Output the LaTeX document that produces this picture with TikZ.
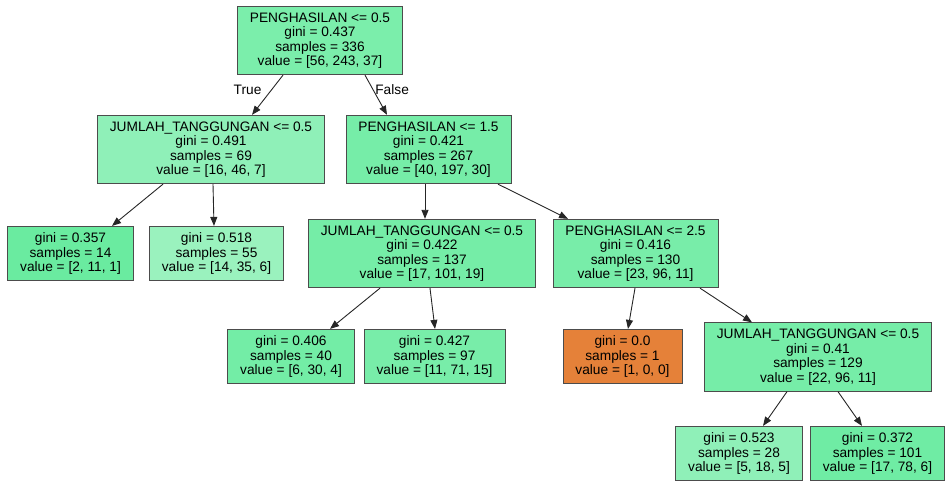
\documentclass[tikz,border=0pt]{standalone}
\usepackage{fontspec}
\setmainfont{Liberation Sans}
\usetikzlibrary{arrows.meta,positioning}
\definecolor{fillroot}{RGB}{123,238,171}
\definecolor{filljA}{RGB}{143,240,184}
\definecolor{fillpA}{RGB}{118,237,168}
\definecolor{fillpB}{RGB}{120,237,169}
\definecolor{filljB}{RGB}{117,237,167}
\definecolor{filljC}{RGB}{118,237,168}
\definecolor{fillgA}{RGB}{106,235,160}
\definecolor{fillgB}{RGB}{154,242,190}
\definecolor{fillgC}{RGB}{115,237,166}
\definecolor{fillgD}{RGB}{120,237,169}
\definecolor{fillgE}{RGB}{143,240,184}
\definecolor{fillgF}{RGB}{111,236,164}
\definecolor{fillorange}{RGB}{229,129,57}
\tikzset{
  dnode/.style={draw=black!70,line width=.8pt,align=center,inner xsep=12.5pt,
                inner ysep=6.3pt,font=\fontsize{13.7}{14.5}\selectfont},
  split/.style={dnode},
  leaf/.style={dnode},
  link/.style={-{Triangle[length=9pt,width=7pt]},draw=black!85,line width=.9pt},
  branch/.style={font=\fontsize{13.7}{14.5}\selectfont,inner sep=0pt},
}
\begin{document}
\begin{tikzpicture}[x=1pt,y=-1pt]
  \useasboundingbox (0,0) rectangle (945,481);
  % ---------------- depth 0 ----------------
  \node[split,fill=fillroot] (root) at (320,40.5)
    {PENGHASILAN <= 0.5\\gini = 0.437\\samples = 336\\value = [56, 243, 37]};
  % ---------------- depth 1 ----------------
  \node[split,fill=filljA] (jumA) at (211,149.5)
    {JUMLAH\_TANGGUNGAN <= 0.5\\gini = 0.491\\samples = 69\\value = [16, 46, 7]};
  \node[split,fill=fillpA] (pengA) at (428.5,149.5)
    {PENGHASILAN <= 1.5\\gini = 0.421\\samples = 267\\value = [40, 197, 30]};
  % ---------------- depth 2 ----------------
  \node[leaf,fill=fillgA] (leafA) at (70.5,253.5)
    {gini = 0.357\\samples = 14\\value = [2, 11, 1]};
  \node[leaf,fill=fillgB] (leafB) at (216.5,253.5)
    {gini = 0.518\\samples = 55\\value = [14, 35, 6]};
  \node[split,fill=filljB] (jumB) at (422,253.5)
    {JUMLAH\_TANGGUNGAN <= 0.5\\gini = 0.422\\samples = 137\\value = [17, 101, 19]};
  \node[split,fill=fillpB] (pengB) at (635.5,253.5)
    {PENGHASILAN <= 2.5\\gini = 0.416\\samples = 130\\value = [23, 96, 11]};
  % ---------------- depth 3 ----------------
  \node[leaf,fill=fillgC] (leafC) at (291,356.5)
    {gini = 0.406\\samples = 40\\value = [6, 30, 4]};
  \node[leaf,fill=fillgD] (leafD) at (434.5,356.5)
    {gini = 0.427\\samples = 97\\value = [11, 71, 15]};
  \node[leaf,fill=fillorange] (leafO) at (622.5,356.5)
    {gini = 0.0\\samples = 1\\value = [1, 0, 0]};
  \node[split,fill=filljC] (jumC) at (818,357)
    {JUMLAH\_TANGGUNGAN <= 0.5\\gini = 0.41\\samples = 129\\value = [22, 96, 11]};
  % ---------------- depth 4 ----------------
  \node[leaf,fill=fillgE] (leafE) at (739,453.5)
    {gini = 0.523\\samples = 28\\value = [5, 18, 5]};
  \node[leaf,fill=fillgF] (leafF) at (877.5,453.5)
    {gini = 0.372\\samples = 101\\value = [17, 78, 6]};
  % ---------------- edges ----------------
  \draw[link] ([xshift=-37pt]root.south) --
    node[branch,pos=.36,left=10pt]{True} ([xshift=41pt]jumA.north);
  \draw[link] ([xshift=45pt]root.south) --
    node[branch,pos=.36,right=2pt]{False} ([xshift=-41.5pt]pengA.north);
  \draw[link] ([xshift=-48pt]jumA.south) -- ([xshift=41.5pt]leafA.north);
  \draw[link] ([xshift=2pt]jumA.south)   -- ([xshift=-2.5pt]leafB.north);
  \draw[link] ([xshift=-3.5pt]pengA.south) -- ([xshift=3pt]jumB.north);
  \draw[link] ([xshift=69.5pt]pengA.south) -- ([xshift=-67.5pt]pengB.north);
  \draw[link] ([xshift=-42pt]jumB.south) -- ([xshift=39pt]leafC.north);
  \draw[link] ([xshift=8pt]jumB.south)   -- ([xshift=.5pt]leafD.north);
  \draw[link] ([xshift=-.5pt]pengB.south) -- ([xshift=5.5pt]leafO.north);
  \draw[link] ([xshift=64.5pt]pengB.south) -- ([xshift=-66pt]jumC.north);
  \draw[link] ([xshift=-31pt]jumC.south) -- ([xshift=24pt]leafE.north);
  \draw[link] ([xshift=20pt]jumC.south)  -- ([xshift=-15.5pt]leafF.north);
\end{tikzpicture}
\end{document}
